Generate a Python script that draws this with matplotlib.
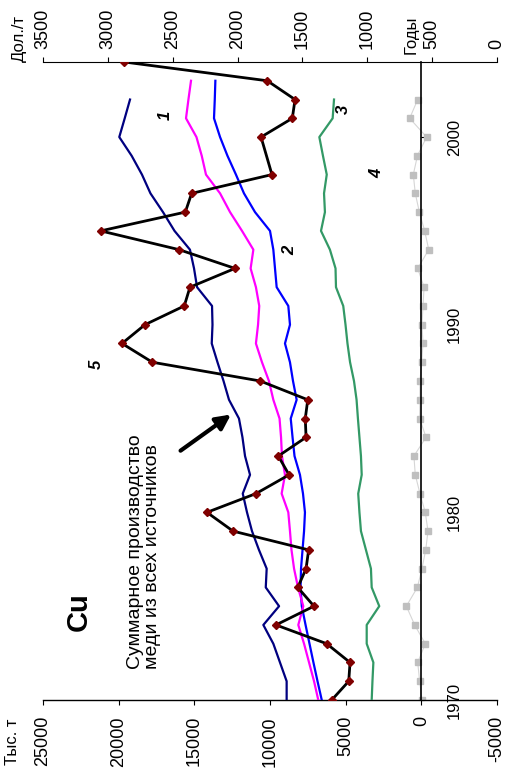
import matplotlib
matplotlib.use("Agg")
import matplotlib.pyplot as plt

plt.rcParams['font.family'] = ['Liberation Sans', 'DejaVu Sans']

# годы
years = list(range(1970, 2003))          # 1970-2002
years_long = list(range(1970, 2004))     # 1970-2003
years_price = [y for y in range(1970, 2005) if y != 1999]

# тыс. т
total_all = [8900, 8900, 9340, 9780, 10440, 9400, 10280, 10220, 10730, 11190,
             11520, 11800, 11320, 11650, 11820, 12050, 12710, 13070, 13470, 13850,
             13800, 13830, 14820, 15020, 15290, 16310, 17070, 17900, 18460, 19140,
             19960, 19600, 19250]
magenta_s = [6810, 7090, 7420, 7750, 8130, 7800, 8150, 8410, 8580, 8680,
             8790, 9230, 9010, 9210, 9270, 9370, 9780, 10070, 10530, 10930,
             10790, 10710, 10930, 11280, 11100, 11850, 12640, 13300, 14230, 14510,
             14860, 15550, 15390, 15220]
blue_s = [6580, 6860, 7130, 7390, 7650, 7900, 7980, 7950, 7850, 7750,
          7690, 7820, 8020, 8380, 8510, 8630, 8240, 8480, 8680, 9010,
          8680, 8790, 9560, 9670, 9780, 10000, 10990, 11720, 12250, 12810,
          13300, 13700, 13650, 13610]
green_s = [3280, 3230, 3170, 3610, 3610, 2780, 3280, 3330, 3660, 3990,
           4090, 4170, 3940, 3990, 4090, 4190, 4280, 4450, 4710, 4880,
           5010, 5160, 5640, 5670, 6040, 6630, 6370, 6430, 6250, 6500,
           6740, 5860, 5770]
gray_s = [-40, 110, 240, -260, 440, 990, 260, -40, -290, -440,
          -260, 90, 400, 490, -310, 110, 90, 90, -20, -110,
          -40, -110, -180, 240, -490, -220, 130, 400, 530, 260,
          -350, 770, 240]
# дол./т
price = [1274, 1143, 1133, 1313, 1704, 1411, 1536, 1472, 1452, 2035,
         2236, 1858, 1603, 1686, 1472, 1478, 1459, 1825, 2657, 2891,
         2714, 2411, 2367, 2020, 2451, 3055, 2403, 2354, 1735,
         1819, 1578, 1557, 1771, 2873]

left_ticks = [25000, 20000, 15000, 10000, 5000, 0, -5000]
left_labels = ['25000', '20000', '15000', '10000', '5000', '0', '-5000']
right_ticks = [3500, 3000, 2500, 2000, 1500, 1000, 500, 0]
year_ticks = [1970, 1980, 1990, 2000]

fig = plt.figure(figsize=(5.06, 7.72), dpi=100)
ax = fig.add_axes([43 / 506, 72 / 772, 454 / 506, 638 / 772])
ax.set_xlim(25000, -5000)
ax.set_ylim(1970, 2004)

ax.plot(gray_s, years, color='#d6d6d6', lw=0.8, marker='s', ms=5,
        mfc='#bfbfbf', mec='#bfbfbf', zorder=2)
ax.plot(green_s, years, color='#339966', lw=1.6, zorder=3)
ax.plot(blue_s, years_long, color='#0000ff', lw=1.6, zorder=3)
ax.plot(magenta_s, years_long, color='#ff00ff', lw=1.6, zorder=3)
ax.plot(total_all, years, color='#000080', lw=1.6, zorder=3)

# оси
for s in ['left', 'top']:
    ax.spines[s].set_visible(False)
ax.spines['right'].set_position(('data', 0))
ax.spines['right'].set_linewidth(1.2)
ax.spines['bottom'].set_linewidth(1.0)
ax.set_xticks(left_ticks)
ax.set_xticklabels(left_labels, rotation=90, fontsize=13)
ax.tick_params(axis='x', direction='out', length=3.6, pad=8)
ax.yaxis.tick_right()
ax.set_yticks(year_ticks)
ax.set_yticklabels([str(y) for y in year_ticks], rotation=90, va='center', fontsize=12)
ax.tick_params(axis='y', direction='out', length=2.5, pad=16)

ax2 = ax.twiny()
ax2.set_xlim(3500, 0)
for s in ['left', 'right', 'bottom']:
    ax2.spines[s].set_visible(False)
ax2.plot(price, years_price, color='black', lw=2, marker='D', ms=4.5,
         mfc='#800000', mec='#800000', zorder=5)
ax2.set_xticks(right_ticks)
ax2.set_xticklabels([str(t) for t in right_ticks], rotation=90, fontsize=13)
ax2.tick_params(axis='x', direction='out', length=3.6, pad=6)

# подписи
fig.text(13 / 506, 1 - 742 / 772, 'Тыс. т', rotation=90, ha='center', va='center', fontsize=12)
fig.text(19 / 506, 1 - 39 / 772, 'Дол./т', rotation=90, ha='center', va='center', fontsize=12)
ax.annotate('Годы', xy=(0, 2004), xytext=(-10, 27), textcoords='offset pixels',
            rotation=90, ha='center', va='center', fontsize=12, annotation_clip=False)

ax.text(22620, 1974.7, 'Cu', rotation=90, ha='center', va='center',
        fontsize=21, fontweight='bold')
ax.text(18330, 1971.65, 'Суммарное производство\nмеди из всех источников',
        rotation=90, ha='center', va='bottom', multialignment='left',
        fontsize=14, linespacing=1.0)
ax.annotate('', xy=(12430, 1985.3), xytext=(16060, 1983.2),
            arrowprops=dict(arrowstyle='-|>', lw=3, mutation_scale=22, color='black'))

for lbl, xv, yv in [('1', 16940, 2001.15), ('2', 8680, 1993.95), ('3', 5160, 2001.5),
                    ('4', 2950, 1998.04), ('5', 21450, 1987.9)]:
    ax.text(xv, yv, lbl, rotation=90, ha='center', va='center', fontsize=12,
            fontweight='bold', fontstyle='italic')

fig.savefig('out.png', dpi=100)
